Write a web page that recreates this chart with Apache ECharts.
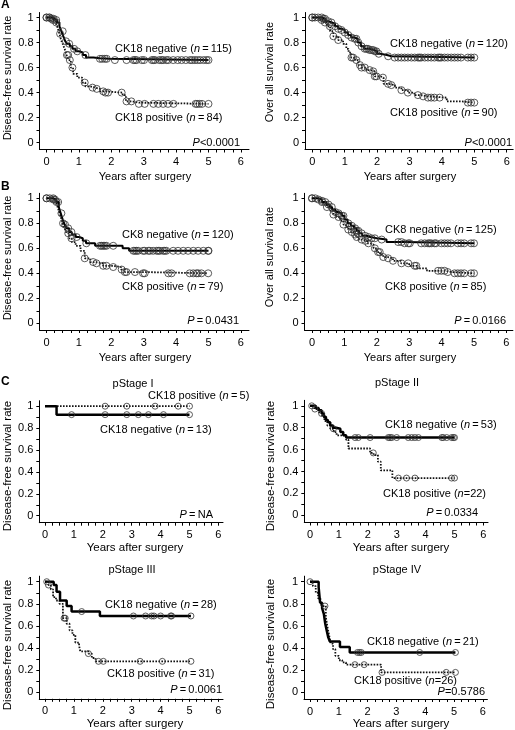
<!DOCTYPE html>
<html><head><meta charset="utf-8">
<script src="https://cdn.jsdelivr.net/npm/echarts@6/dist/echarts.min.js"></script>
<style>html,body{margin:0;padding:0;background:#fff}#c{width:515px;height:730px}</style>
</head><body><div id="c"></div>
<script>
// ---- tick values ----
const xTicks = [0, 1, 2, 3, 4, 5, 6];
const yTicks = [0, 0.2, 0.4, 0.6, 0.8, 1];
const xMinorTicks = [0,0.25,0.5,0.75,1,1.25,1.5,1.75,2,2.25,2.5,2.75,3,3.25,3.5,3.75,4,4.25,4.5,4.75,5,5.25,5.5,5.75,6];
const yMinorTicks = [0,0.1,0.2,0.3,0.4,0.5,0.6,0.7,0.8,0.9,1];

// ---- A left: disease-free, CK18 ----
const aDfsNegT = [0,0.15,0.25,0.32,0.4,0.46,0.52,0.58,0.64,0.72,0.8,0.9,1.0,1.12,1.22,1.45,1.65,1.95];
const aDfsNegS = [1,0.99,0.98,0.96,0.93,0.89,0.85,0.81,0.79,0.77,0.75,0.73,0.72,0.70,0.68,0.675,0.67,0.66];
const aDfsNegC = [0,0.08,0.15,0.22,0.3,0.5,0.6,0.7,0.85,0.95,1.2,1.65,1.72,1.8,1.86,2.11,2.47,2.68,2.73,2.78,2.94,3.01,3.25,3.3,3.35,3.48,3.55,3.6,3.7,3.76,3.91,4.05,4.17,4.3,4.43,4.5,4.58,4.66,4.74,4.85,4.94,5.0];
const aDfsPosT = [0,0.2,0.28,0.34,0.4,0.45,0.5,0.56,0.62,0.68,0.75,0.82,0.95,1.1,1.2,1.35,1.5,1.65,1.78,2.35,2.45,2.65,2.85];
const aDfsPosS = [1,0.98,0.96,0.92,0.87,0.82,0.79,0.75,0.7,0.66,0.6,0.55,0.52,0.48,0.45,0.44,0.43,0.41,0.40,0.38,0.33,0.32,0.31];
const aDfsPosC = [0,0.1,0.2,0.3,0.42,0.63,0.67,0.72,0.8,1.18,1.42,1.55,1.75,1.82,1.9,2.32,2.47,2.62,2.85,3.03,3.3,3.45,3.6,3.75,3.92,4.6,4.65,4.72,4.8,5.0];

// ---- A right: overall, CK18 ----
const aOsNegT = [0,0.3,0.4,0.5,0.6,0.7,0.8,0.9,1.0,1.1,1.2,1.3,1.4,1.5,1.6,1.75,1.9,2.0,2.1,2.3,2.45];
const aOsNegS = [1,0.99,0.97,0.96,0.95,0.93,0.91,0.90,0.88,0.86,0.84,0.83,0.80,0.77,0.75,0.74,0.73,0.71,0.70,0.69,0.68];
const aOsNegC = [0,0.08,0.18,0.29,0.34,0.39,0.49,0.59,0.7,0.8,0.9,1.0,1.11,1.21,1.31,1.36,1.42,1.52,1.62,1.67,1.72,1.77,1.83,1.88,1.93,1.98,2.05,2.34,2.54,2.65,2.75,2.85,2.95,3.06,3.16,3.26,3.31,3.36,3.47,3.57,3.67,3.77,3.88,3.93,3.98,4.08,4.18,4.29,4.39,4.49,4.59,4.8,4.9,5.0];
const aOsPosT = [0,0.25,0.35,0.45,0.55,0.65,0.8,0.95,1.05,1.12,1.2,1.32,1.42,1.52,1.67,1.8,1.93,2.1,2.2,2.35,2.55,2.75,2.95,3.15,3.35,3.55,4.15,4.6];
const aOsPosS = [1,0.98,0.96,0.93,0.89,0.85,0.82,0.79,0.75,0.72,0.68,0.66,0.62,0.60,0.58,0.57,0.53,0.52,0.47,0.46,0.44,0.42,0.40,0.38,0.37,0.36,0.33,0.32];
const aOsPosC = [0,0.29,0.39,0.54,0.65,0.8,1.21,1.26,1.36,1.47,1.52,1.62,1.77,1.88,1.93,1.98,2.18,2.34,2.44,2.75,2.95,3.26,3.42,3.57,3.67,3.77,3.93,4.8,4.9,5.0];

// ---- B left: disease-free, CK8 ----
const bDfsNegT = [0,0.2,0.3,0.38,0.44,0.5,0.56,0.62,0.7,0.78,0.9,1.0,1.12,1.22,1.5,2.35,2.55];
const bDfsNegS = [1,0.99,0.97,0.93,0.88,0.83,0.79,0.76,0.73,0.71,0.69,0.68,0.66,0.64,0.62,0.60,0.58];
const bDfsNegC = [0,0.1,0.21,0.26,0.31,0.36,0.46,0.57,0.67,0.77,0.93,1.23,1.65,1.7,1.75,1.8,1.85,2.06,2.68,2.73,2.78,2.83,2.98,3.03,3.14,3.19,3.29,3.4,3.45,3.5,3.6,3.65,3.7,3.91,4.06,4.22,4.37,4.53,4.68,4.84,4.99,5.0];
const bDfsPosT = [0,0.25,0.32,0.38,0.44,0.5,0.56,0.62,0.7,0.78,0.9,1.05,1.18,1.35,1.5,1.75,2.05,2.3,2.42,2.98];
const bDfsPosS = [1,0.98,0.95,0.90,0.85,0.80,0.76,0.72,0.68,0.65,0.62,0.58,0.52,0.49,0.48,0.46,0.45,0.43,0.41,0.40];
const bDfsPosC = [0,0.21,0.51,0.67,0.77,1.18,1.44,1.54,1.75,1.85,2.06,2.32,2.42,2.47,2.73,2.98,3.03,3.76,3.86,4.42,4.53,4.63,4.68,4.78,4.99];

// ---- B right: overall, CK8 ----
const bOsNegT = [0,0.2,0.3,0.45,0.55,0.62,0.72,0.82,0.92,1.0,1.1,1.2,1.3,1.38,1.45,1.55,1.68,1.8,2.0,2.3,2.85];
const bOsNegS = [1,0.99,0.97,0.95,0.93,0.91,0.89,0.88,0.86,0.83,0.80,0.78,0.76,0.74,0.72,0.70,0.69,0.68,0.67,0.65,0.64];
const bOsNegC = [0,0.1,0.2,0.31,0.41,0.51,0.61,0.72,0.82,0.92,0.97,1.12,1.23,1.33,1.38,1.43,1.53,1.64,1.74,1.84,1.94,2.15,2.66,2.76,2.86,2.97,3.02,3.37,3.48,3.58,3.63,3.68,3.78,3.83,3.99,4.09,4.19,4.29,4.5,4.6,4.7,4.91,5.0];
const bOsPosT = [0,0.2,0.35,0.46,0.56,0.66,0.76,0.87,0.97,1.05,1.12,1.2,1.28,1.36,1.45,1.55,1.7,1.8,1.9,2.0,2.1,2.2,2.35,2.5,2.75,3.0,3.25,3.55,4.1,4.3];
const bOsPosS = [1,0.98,0.96,0.93,0.90,0.87,0.85,0.82,0.79,0.77,0.75,0.73,0.71,0.69,0.67,0.66,0.64,0.63,0.60,0.57,0.55,0.53,0.52,0.50,0.48,0.46,0.44,0.42,0.41,0.40];
const bOsPosC = [0,0.31,0.46,0.66,0.82,0.97,1.12,1.23,1.33,1.38,1.53,1.64,1.74,1.94,2.04,2.09,2.2,2.35,2.5,2.76,2.97,3.17,3.22,3.89,3.99,4.09,4.19,4.4,4.5,4.6,4.7,4.91,5.0];

// ---- C: disease-free by pStage, CK18 ----
const s1NegT = [0,0.4];
const s1NegS = [1,0.923];
const s1NegC = [0.92,2.08,2.83,3.23,3.58,4.1,5.0];
const s1PosT = [0];
const s1PosS = [1];
const s1PosC = [2.08,2.83,3.81,4.61,5.0];

const s2NegT = [0,0.2,0.3,0.4,0.48,0.55,0.62,0.7,0.8,0.9,1.05,1.15,1.25];
const s2NegS = [1,0.98,0.96,0.93,0.90,0.87,0.85,0.82,0.80,0.79,0.76,0.73,0.71];
const s2NegC = [0.06,0.4,1.56,1.67,2.08,2.71,2.77,2.83,3.0,3.4,3.52,3.63,3.75,4.56,4.61,4.73,4.9,4.96,5.0];
const s2PosT = [0,0.15,0.3,0.42,0.5,0.6,0.7,0.82,0.92,1.25,1.33,2.08,2.2,2.35,2.45,2.85];
const s2PosS = [1,0.97,0.94,0.90,0.86,0.82,0.79,0.76,0.73,0.69,0.61,0.57,0.55,0.49,0.41,0.34];
const s2PosC = [0.17,0.81,2.19,3.06,3.34,3.63,4.9,5.0];

const s3NegT = [0,0.3,0.4,0.52,0.75,0.92,1.9];
const s3NegS = [1,0.97,0.91,0.83,0.78,0.73,0.69];
const s3NegC = [0.06,1.27,3.06,3.48,3.69,3.77,4.0,4.35,4.38,5.05];
const s3PosT = [0,0.12,0.2,0.28,0.38,0.5,0.62,0.75,0.85,0.95,1.05,1.18,1.22,1.5,1.62,1.75];
const s3PosS = [1,0.97,0.93,0.86,0.83,0.80,0.67,0.62,0.56,0.52,0.45,0.42,0.37,0.35,0.31,0.28];
const s3PosC = [0.12,0.66,0.7,1.5,1.85,2.02,3.29,4.06,5.05];

const s4NegT = [0,0.3,0.35,0.42,0.48,0.53,0.58,0.63,0.69,1.04,1.38];
const s4NegS = [1,0.95,0.81,0.76,0.71,0.62,0.56,0.50,0.46,0.41,0.36];
const s4NegC = [0,1.65,1.72,1.78,3.81,5.05];
const s4PosT = [0,0.1,0.2,0.28,0.36,0.42,0.55,0.6,0.66,0.72,0.8,0.88,1.0,1.12,1.25,2.47];
const s4PosS = [1,0.96,0.90,0.85,0.80,0.78,0.68,0.60,0.52,0.44,0.39,0.33,0.29,0.27,0.25,0.18];
const s4PosC = [0.52,1.56,1.88,2.5,4.73,5.05];

// ---- panel definitions (layout in px) ----
const FONT = "'Liberation Sans', Arial, sans-serif";
const panels = [
  {neg:[aDfsNegT,aDfsNegS,aDfsNegC], pos:[aDfsPosT,aDfsPosS,aDfsPosC], L:{x0:46.5,ppy:32.4,y0:142.7,ppu:125.2,axL:39.5,axB:149.5,xMax:6.25,yMax:1.04}, r:3.5, lw:2},
  {neg:[aOsNegT,aOsNegS,aOsNegC], pos:[aOsPosT,aOsPosS,aOsPosC], L:{x0:312.3,ppy:32.4,y0:142.7,ppu:125.2,axL:305,axB:149.5,xMax:6.2,yMax:1.04}, r:3.5, lw:2},
  {neg:[bDfsNegT,bDfsNegS,bDfsNegC], pos:[bDfsPosT,bDfsPosS,bDfsPosC], L:{x0:46.5,ppy:32.4,y0:323.3,ppu:125,axL:39.5,axB:330,xMax:6.25,yMax:1.04}, r:3.5, lw:2},
  {neg:[bOsNegT,bOsNegS,bOsNegC], pos:[bOsPosT,bOsPosS,bOsPosC], L:{x0:312,ppy:32.4,y0:323.3,ppu:125,axL:304.5,axB:330,xMax:6.2,yMax:1.04}, r:3.5, lw:2},
  {neg:[s1NegT,s1NegS,s1NegC], pos:[s1PosT,s1PosS,s1PosC], L:{x0:45,ppy:28.9,y0:515.7,ppu:109.5,axL:39.3,axB:522.7,xMax:6.16,yMax:1.05}, r:3, lw:2.5},
  {neg:[s2NegT,s2NegS,s2NegC], pos:[s2PosT,s2PosS,s2PosC], L:{x0:310,ppy:28.9,y0:515.3,ppu:109.5,axL:304.3,axB:522.5,xMax:6.16,yMax:1.05}, r:3, lw:2.5},
  {neg:[s3NegT,s3NegS,s3NegC], pos:[s3PosT,s3PosS,s3PosC], L:{x0:45,ppy:28.9,y0:692.3,ppu:110.6,axL:39.3,axB:698.8,xMax:6.16,yMax:1.05}, r:3, lw:2.5},
  {neg:[s4NegT,s4NegS,s4NegC], pos:[s4PosT,s4PosS,s4PosC], L:{x0:310,ppy:28.8,y0:692.3,ppu:110.6,axL:304,axB:699,xMax:6.16,yMax:1.05}, r:3, lw:2.5}
];

function stepAt(T, S, t){ let v=S[0]; for(let i=0;i<T.length;i++){ if(T[i]<=t) v=S[i]; } return v; }
function stepData(T, S, C){ const d=T.map((t,i)=>[t,S[i]]); const end=Math.max(...C, T[T.length-1]); d.push([end,S[S.length-1]]); return d; }
function censorData(T, S, C){ return C.map(t=>[t, stepAt(T,S,t)]); }

const grids=[], xAxes=[], yAxes=[], series=[];
panels.forEach((p,i)=>{
  const L=p.L;
  const top = L.y0 - L.yMax*L.ppu;
  const right = L.x0 + L.xMax*L.ppy;
  grids.push({left:L.axL, top:top, width:right-L.axL, height:L.axB-top});
  xAxes.push({type:'value', gridIndex:i, min:(L.axL-L.x0)/L.ppy, max:L.xMax,
    axisLine:{show:true,onZero:false,lineStyle:{color:'#000',width:1}},
    axisTick:{show:true,length:3,inside:false,customValues:xMinorTicks,lineStyle:{color:'#000',width:1}},
    axisLabel:{customValues:xTicks,margin:7,fontSize:11,color:'#000',fontFamily:FONT},
    splitLine:{show:false}});
  yAxes.push({type:'value', gridIndex:i, min:-(L.axB-L.y0)/L.ppu, max:L.yMax,
    axisLine:{show:true,onZero:false,lineStyle:{color:'#000',width:1}},
    axisTick:{show:true,length:3,inside:false,customValues:yMinorTicks,lineStyle:{color:'#000',width:1}},
    axisLabel:{customValues:yTicks,margin:6,fontSize:11,color:'#000',fontFamily:FONT},
    splitLine:{show:false}});
  const [nT,nS,nC]=p.neg, [pT,pS,pC]=p.pos;
  series.push({type:'line', xAxisIndex:i, yAxisIndex:i, step:'end', symbol:'none', silent:true, z:2,
    data:stepData(pT,pS,pC), lineStyle:{color:'#111',width:1.8,type:[1.6,1.4]}});
  series.push({type:'line', xAxisIndex:i, yAxisIndex:i, step:'end', symbol:'none', silent:true, z:3,
    data:stepData(nT,nS,nC), lineStyle:{color:'#000',width:p.lw,type:'solid'}});
  series.push({type:'scatter', xAxisIndex:i, yAxisIndex:i, symbol:'circle', symbolSize:p.r*2, z:4,
    data:censorData(pT,pS,pC), itemStyle:{color:'rgba(255,255,255,0)',borderColor:'#333',borderWidth:1}});
  series.push({type:'scatter', xAxisIndex:i, yAxisIndex:i, symbol:'circle', symbolSize:p.r*2, z:4,
    data:censorData(nT,nS,nC), itemStyle:{color:'rgba(255,255,255,0)',borderColor:'#333',borderWidth:1}});
});

// ---- texts ----
const rich = { i:{fontStyle:'italic',fontSize:11,fontFamily:FONT,fill:'#000'}, r:{fontSize:11,fontFamily:FONT,fill:'#000'} };
function txt(text,x,y,align,opts){ opts=opts||{}; return {type:'text', x:x, y:y, rotation:opts.rot||0, z:10, silent:true,
  style:{text:text, fontSize:opts.size||11, fontFamily:FONT, fontWeight:opts.bold?'bold':'normal', fill:'#000', align:align, verticalAlign:'middle', rich:opts.rich?rich:undefined}}; }
function lab(name, n){ return '{r|'+name+' (}{i|n}{r|\u2009=\u2009'+n+')}'; }
function labTight(name, n){ return '{r|'+name+' (}{i|n}{r|='+n+')}'; }
function pval(v){ return '{i|P}{r|'+v+'}'; }

const texts = [
  txt('A',1,5,'left',{bold:true,size:12}),
  txt('B',1,187,'left',{bold:true,size:12}),
  txt('C',1,382,'left',{bold:true,size:12}),
  txt(lab('CK18 negative','115'),115,49,'left',{rich:true}),
  txt(lab('CK18 positive','84'),115,118,'left',{rich:true}),
  txt(pval('<0.0001'),240,142.7,'right',{rich:true}),
  txt(lab('CK18 negative','120'),390,44,'left',{rich:true}),
  txt(lab('CK18 positive','90'),390,113,'left',{rich:true}),
  txt(pval('<0.0001'),512,142.7,'right',{rich:true}),
  txt(lab('CK8 negative','120'),122,235,'left',{rich:true}),
  txt(lab('CK8 positive','79'),122,286.7,'left',{rich:true}),
  txt(pval('\u2009=\u20090.0431'),239,320.7,'right',{rich:true}),
  txt(lab('CK8 negative','125'),385,230,'left',{rich:true}),
  txt(lab('CK8 positive','85'),385,286.7,'left',{rich:true}),
  txt(pval('\u2009=\u20090.0166'),506,320.7,'right',{rich:true}),
  txt(lab('CK18 positive','5'),148,396,'left',{rich:true}),
  txt(lab('CK18 negative','13'),100,430,'left',{rich:true}),
  txt(pval('\u2009=\u2009NA'),213,515,'right',{rich:true}),
  txt(lab('CK18 negative','53'),385,425,'left',{rich:true}),
  txt(labTight('CK18 positive','22'),383,494,'left',{rich:true}),
  txt(pval('\u2009=\u20090.0334'),478,513,'right',{rich:true}),
  txt(lab('CK18 negative','28'),105,605,'left',{rich:true}),
  txt(lab('CK18 positive','31'),107,674,'left',{rich:true}),
  txt(pval('\u2009=\u20090.0061'),222,690,'right',{rich:true}),
  txt(lab('CK18 negative','21'),367,642,'left',{rich:true}),
  txt(labTight('CK18 positive','26'),354,681,'left',{rich:true}),
  txt(pval('=0.5786'),485,692,'right',{rich:true}),
  txt('pStage I',133,384,'center'),
  txt('pStage II',397,383.3,'center'),
  txt('pStage III',132,570,'center'),
  txt('pStage IV',397,570,'center'),
  txt('Years after surgery',145,177,'center'),
  txt('Years after surgery',410,177,'center'),
  txt('Years after surgery',145,357.5,'center'),
  txt('Years after surgery',410,357.5,'center'),
  txt('Years after surgery',135,548,'center',{size:11.5}),
  txt('Years after surgery',401,548,'center',{size:11.5}),
  txt('Years after surgery',135,724,'center',{size:11.5}),
  txt('Years after surgery',401,724,'center',{size:11.5}),
  txt('Disease-free survival rate',7.5,78,'center',{rot:Math.PI/2}),
  txt('Over all survival rate',270,72,'center',{rot:Math.PI/2}),
  txt('Disease-free survival rate',7.5,258,'center',{rot:Math.PI/2}),
  txt('Over all survival rate',270,257,'center',{rot:Math.PI/2}),
  txt('Disease-free survival rate',7.5,466,'center',{rot:Math.PI/2,size:11.5}),
  txt('Disease-free survival rate',271,466,'center',{rot:Math.PI/2,size:11.5}),
  txt('Disease-free survival rate',7.5,645,'center',{rot:Math.PI/2,size:11.5}),
  txt('Disease-free survival rate',271,644,'center',{rot:Math.PI/2,size:11.5})
];

const chart = echarts.init(document.getElementById('c'), null, {renderer:'canvas'});
chart.setOption({
  animation:false,
  backgroundColor:'#fff',
  grid:grids, xAxis:xAxes, yAxis:yAxes, series:series,
  graphic:texts
});
</script>
</body></html>
